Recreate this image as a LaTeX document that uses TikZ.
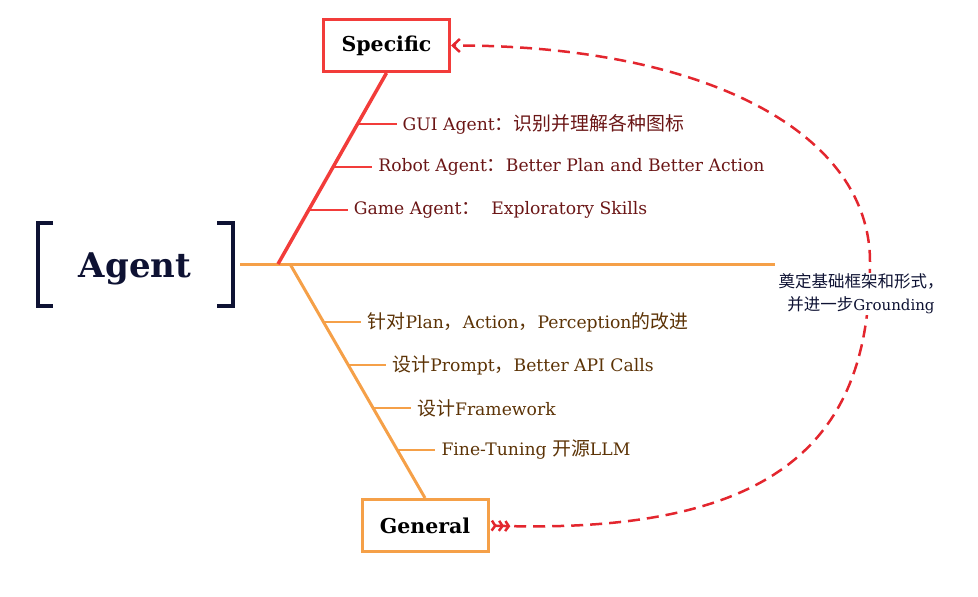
\documentclass[tikz,border=0pt]{standalone}
\usepackage{fontspec}
\setmainfont{DejaVu Serif}
\newfontfamily\cjk[Scale=1.1]{Noto Sans CJK SC}
\usetikzlibrary{arrows.meta, positioning, calc}
\definecolor{specred}{HTML}{F23C3A}
\definecolor{genorange}{HTML}{F5A048}
\definecolor{linkred}{HTML}{E3262E}
\definecolor{agentnavy}{HTML}{0E1233}
\definecolor{redtext}{HTML}{6B1616}
\definecolor{browntext}{HTML}{5C3306}
\newcommand{\zh}[1]{{\cjk #1}}
\tikzset{
	levelbox/.style={draw=#1, line width=3pt, fill=white, minimum width=126pt, minimum height=52pt, inner sep=0pt, font=\bfseries\fontsize{20.5}{24}\selectfont}
}
\tikzset{
	twig/.style={draw=#1, line width=2.5pt}
}
\tikzset{
	leaf/.style={anchor=west, inner sep=2pt, text=#1, font=\fontsize{17.2}{20}\selectfont}
}
\tikzset{
	linkdash/.style={draw=linkred, line width=2.5pt, dash pattern=on 12pt off 7pt,
		arrows={Straight Barb[reversed,length=3.5pt,width=10pt,sep=1pt]Straight Barb[reversed,length=3.5pt,width=10pt,sep=1pt]Straight Barb[reversed,length=3.5pt,width=10pt]-Straight Barb[length=7pt,width=13pt]}}
}

\begin{document}
\begin{tikzpicture}[x=1pt, y=-1pt]
\useasboundingbox (0,0) rectangle (978,597);

\coordinate (axisL) at (240,264);
\coordinate (axisR) at (775,264);
\coordinate (forkS) at (278,264);
\coordinate (forkG) at (290,264);
\coordinate (bend) at (870,262);

\node[levelbox=specred] (spec) at (386.5,45.5) {Specific};
\node[levelbox=genorange] (gen) at (425,525.5) {General};
\node[text=agentnavy, font=\bfseries\fontsize{34}{38}\selectfont] (agent) at (135,269) {Agent};

% brackets round Agent
\draw[agentnavy, line width=3.5pt] (53,223) -| (38,306) -- (53,306);
\draw[agentnavy, line width=3.5pt] (217,223) -| (233,306) -- (217,306);

\draw[genorange, line width=3pt] (axisL) -- (axisR);
\draw[specred, line width=3.5pt] (forkS) -- (spec.south);
\draw[genorange, line width=3pt] (forkG) -- (gen.north);

\path (forkS) -- (spec.south)
	coordinate[pos=0.733] (s1)
	coordinate[pos=0.508] (s2)
	coordinate[pos=0.283] (s3);
\path (forkG) -- (gen.north)
	coordinate[pos=0.248] (g1)
	coordinate[pos=0.432] (g2)
	coordinate[pos=0.615] (g3)
	coordinate[pos=0.795] (g4);

\node[leaf=redtext] (gui) at ($(s1)+(43,0)$) {GUI Agent\zh{：识别并理解各种图标}};
\node[leaf=redtext] (robot) at ($(s2)+(43,0)$) {Robot Agent\zh{：}Better Plan and Better Action};
\node[leaf=redtext] (game) at ($(s3)+(43,0)$) {Game Agent\zh{：}\ \ Exploratory Skills};
\foreach \s/\t in {s1/gui, s2/robot, s3/game}
	\draw[twig=specred] (\s) -- ([xshift=-4pt]\t.west);

\node[leaf=browntext] (plan) at ($(g1)+(42,0)$) {\zh{针对}Plan\zh{，}Action\zh{，}Perception\zh{的改进}};
\node[leaf=browntext] (prompt) at ($(g2)+(42,0)$) {\zh{设计}Prompt\zh{，}Better API Calls};
\node[leaf=browntext] (frame) at ($(g3)+(42,0)$) {\zh{设计}Framework};
\node[leaf=browntext] (tune) at ($(g4)+(42,0)$) {Fine-Tuning \zh{开源}LLM};
\foreach \g/\t in {g1/plan, g2/prompt, g3/frame, g4/tune}
	\draw[twig=genorange] (\g) -- ([xshift=-4pt]\t.west);

\draw[linkdash] (gen.east) .. controls (790,536) and (870,430) .. (bend)
	.. controls (870,130) and (700,45) .. (spec.east);

\node[fill=white, text=agentnavy, align=center, inner sep=1pt, font=\fontsize{15}{23}\selectfont] (ground) at (861,294) {\zh{奠定基础框架和形式，}\\\zh{并进一步}Grounding};

\end{tikzpicture}
\end{document}
